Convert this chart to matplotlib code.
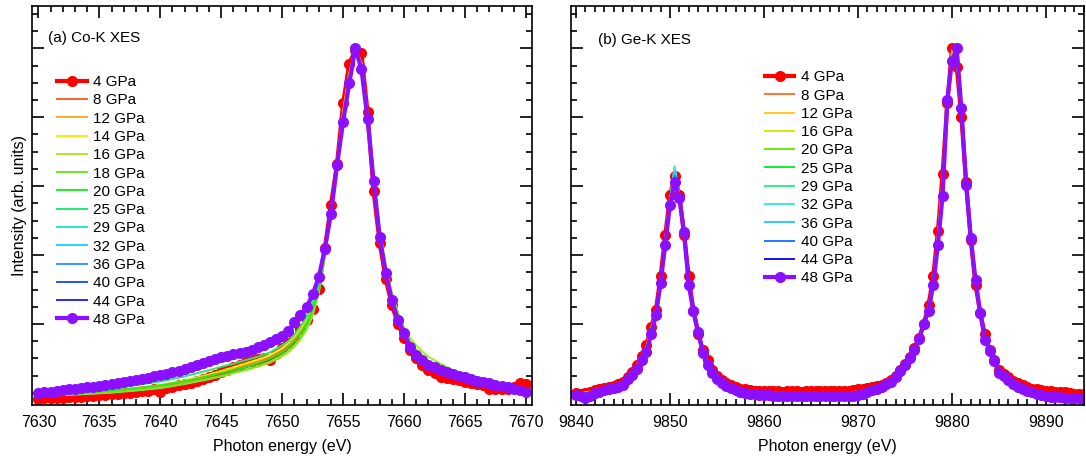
import numpy as np
import matplotlib
matplotlib.use("Agg")
import matplotlib.pyplot as plt
from matplotlib.ticker import MultipleLocator

plt.rcParams['font.family'] = ['Liberation Sans', 'DejaVu Sans']

# ---------------- Panel (a): Co-K XES ----------------
co_energy = np.arange(7630.0, 7670.01, 0.5)  # scan grid of the marked curves

co_4 = [-0.017, -0.016, -0.015, -0.016, -0.014, -0.012, -0.013, -0.011, -0.010, -0.008,
        -0.007, -0.006, -0.004, -0.002, 0.000, 0.001, 0.003, 0.005, 0.007, 0.010,
        0.004, 0.014, 0.018, 0.022, 0.026, 0.030, 0.036, 0.040, 0.046, 0.052,
        0.062, 0.068, 0.074, 0.080, 0.090, 0.094, 0.098, 0.102, 0.095, 0.112,
        0.130, 0.145, 0.160, 0.185, 0.212, 0.245, 0.303, 0.420, 0.545, 0.665,
        0.840, 0.955, 0.995, 0.985, 0.815, 0.585, 0.435, 0.330, 0.255, 0.200,
        0.160, 0.125, 0.100, 0.082, 0.068, 0.058, 0.046, 0.043, 0.040, 0.038,
        0.033, 0.030, 0.025, 0.022, 0.012, 0.010, 0.012, 0.010, 0.018, 0.028,
        0.026]

co_48 = [0.000, 0.002, 0.004, 0.006, 0.008, 0.010, 0.012, 0.014, 0.016, 0.018,
         0.020, 0.023, 0.026, 0.029, 0.031, 0.035, 0.038, 0.041, 0.044, 0.048,
         0.051, 0.055, 0.060, 0.064, 0.070, 0.076, 0.081, 0.086, 0.092, 0.098,
         0.103, 0.108, 0.112, 0.116, 0.120, 0.126, 0.132, 0.139, 0.148, 0.156,
         0.166, 0.180, 0.205, 0.225, 0.248, 0.287, 0.335, 0.419, 0.519, 0.661,
         0.787, 0.898, 1.000, 0.940, 0.795, 0.615, 0.453, 0.349, 0.269, 0.211,
         0.175, 0.134, 0.111, 0.095, 0.082, 0.074, 0.066, 0.060, 0.054, 0.050,
         0.045, 0.040, 0.036, 0.032, 0.028, 0.024, 0.020, 0.016, 0.012, 0.009,
         0.002]

co_thin_energy = [7630, 7632, 7634, 7636, 7638, 7640, 7642, 7644, 7645, 7646, 7647, 7648, 7649, 7650,
                  7650.5, 7651, 7651.5, 7652, 7652.5, 7653, 7653.5, 7654, 7654.5, 7655, 7655.5, 7656,
                  7656.5, 7657, 7657.5, 7658, 7658.5, 7659, 7659.5, 7660, 7660.5, 7661, 7661.5, 7662,
                  7663, 7664, 7666, 7668, 7670]

co_8 = [-0.010, -0.006, -0.002, 0.004, 0.010, 0.018, 0.030, 0.048, 0.058, 0.068, 0.078, 0.090, 0.102, 0.122,
        0.135, 0.152, 0.175, 0.205, 0.245, 0.300, 0.400, 0.530, 0.670, 0.820, 0.930, 1.000,
        0.960, 0.800, 0.600, 0.445, 0.340, 0.262, 0.205, 0.168, 0.130, 0.106, 0.090, 0.078,
        0.060, 0.048, 0.032, 0.018, 0.012]
co_12 = [-0.008, -0.004, 0.000, 0.006, 0.013, 0.022, 0.035, 0.052, 0.062, 0.072, 0.083, 0.094, 0.108, 0.128,
         0.142, 0.160, 0.182, 0.210, 0.250, 0.305, 0.405, 0.530, 0.670, 0.815, 0.925, 1.000,
         0.955, 0.800, 0.605, 0.448, 0.343, 0.265, 0.207, 0.170, 0.132, 0.108, 0.092, 0.080,
         0.063, 0.050, 0.034, 0.019, 0.008]
co_14 = [-0.007, -0.003, 0.001, 0.007, 0.014, 0.023, 0.036, 0.054, 0.064, 0.075, 0.086, 0.097, 0.110, 0.130,
         0.145, 0.165, 0.188, 0.215, 0.255, 0.310, 0.410, 0.530, 0.668, 0.812, 0.922, 1.000,
         0.952, 0.802, 0.607, 0.450, 0.345, 0.266, 0.209, 0.171, 0.133, 0.109, 0.093, 0.081,
         0.064, 0.051, 0.035, 0.019, 0.007]
co_16 = [-0.009, -0.006, -0.003, 0.001, 0.007, 0.014, 0.026, 0.040, 0.048, 0.057, 0.066, 0.076, 0.088, 0.106,
         0.118, 0.134, 0.155, 0.182, 0.224, 0.290, 0.395, 0.520, 0.662, 0.800, 0.915, 1.000,
         0.958, 0.815, 0.630, 0.475, 0.370, 0.292, 0.235, 0.192, 0.160, 0.138, 0.120, 0.105,
         0.085, 0.066, 0.044, 0.026, 0.010]
co_18 = [-0.008, -0.005, -0.002, 0.002, 0.008, 0.015, 0.027, 0.042, 0.050, 0.059, 0.068, 0.078, 0.091, 0.110,
         0.122, 0.139, 0.160, 0.188, 0.230, 0.295, 0.398, 0.522, 0.664, 0.802, 0.916, 1.000,
         0.955, 0.810, 0.625, 0.468, 0.362, 0.284, 0.226, 0.185, 0.150, 0.126, 0.108, 0.094,
         0.076, 0.060, 0.040, 0.023, 0.008]
co_20 = [-0.008, -0.004, 0.001, 0.007, 0.014, 0.022, 0.034, 0.050, 0.058, 0.066, 0.075, 0.086, 0.100, 0.118,
         0.132, 0.150, 0.172, 0.200, 0.242, 0.302, 0.403, 0.524, 0.664, 0.804, 0.917, 1.000,
         0.950, 0.805, 0.620, 0.460, 0.355, 0.276, 0.218, 0.180, 0.142, 0.118, 0.100, 0.088,
         0.070, 0.056, 0.038, 0.021, 0.006]
co_25 = [-0.006, 0.000, 0.006, 0.014, 0.023, 0.033, 0.048, 0.066, 0.076, 0.085, 0.095, 0.105, 0.118, 0.138,
         0.150, 0.170, 0.193, 0.220, 0.260, 0.315, 0.410, 0.522, 0.663, 0.800, 0.912, 1.000,
         0.948, 0.802, 0.618, 0.458, 0.352, 0.273, 0.215, 0.178, 0.139, 0.115, 0.098, 0.086,
         0.068, 0.055, 0.037, 0.020, 0.004]
co_29 = [-0.004, 0.003, 0.011, 0.020, 0.031, 0.042, 0.059, 0.080, 0.091, 0.100, 0.110, 0.121, 0.137, 0.155,
         0.168, 0.190, 0.210, 0.236, 0.276, 0.326, 0.414, 0.520, 0.662, 0.795, 0.908, 1.000,
         0.946, 0.800, 0.617, 0.456, 0.351, 0.272, 0.214, 0.177, 0.137, 0.113, 0.097, 0.084,
         0.067, 0.055, 0.037, 0.020, 0.003]
co_32 = [-0.003, 0.004, 0.012, 0.021, 0.032, 0.044, 0.061, 0.083, 0.094, 0.103, 0.112, 0.124, 0.140, 0.158,
         0.171, 0.194, 0.214, 0.240, 0.279, 0.329, 0.415, 0.520, 0.661, 0.793, 0.905, 1.000,
         0.944, 0.798, 0.616, 0.455, 0.350, 0.271, 0.213, 0.176, 0.136, 0.112, 0.096, 0.083,
         0.067, 0.054, 0.036, 0.020, 0.003]
co_36 = [-0.002, 0.005, 0.013, 0.022, 0.033, 0.045, 0.063, 0.085, 0.096, 0.105, 0.114, 0.126, 0.142, 0.160,
         0.174, 0.197, 0.218, 0.243, 0.282, 0.331, 0.416, 0.519, 0.661, 0.791, 0.903, 1.000,
         0.943, 0.797, 0.616, 0.454, 0.350, 0.270, 0.212, 0.176, 0.135, 0.112, 0.096, 0.083,
         0.066, 0.054, 0.036, 0.020, 0.002]
co_40 = [-0.001, 0.006, 0.014, 0.023, 0.035, 0.047, 0.065, 0.087, 0.098, 0.107, 0.116, 0.128, 0.144, 0.162,
         0.176, 0.200, 0.221, 0.245, 0.284, 0.333, 0.417, 0.519, 0.661, 0.789, 0.900, 1.000,
         0.942, 0.796, 0.615, 0.454, 0.349, 0.270, 0.212, 0.175, 0.135, 0.111, 0.095, 0.082,
         0.066, 0.054, 0.036, 0.020, 0.002]
co_44 = [0.000, 0.007, 0.015, 0.024, 0.036, 0.049, 0.067, 0.089, 0.100, 0.109, 0.118, 0.130, 0.146, 0.164,
         0.178, 0.203, 0.223, 0.247, 0.286, 0.334, 0.418, 0.519, 0.661, 0.788, 0.899, 1.000,
         0.941, 0.795, 0.615, 0.453, 0.349, 0.269, 0.211, 0.175, 0.134, 0.111, 0.095, 0.082,
         0.066, 0.054, 0.036, 0.020, 0.002]

co_labels = ['4 GPa', '8 GPa', '12 GPa', '14 GPa', '16 GPa', '18 GPa', '20 GPa', '25 GPa',
             '29 GPa', '32 GPa', '36 GPa', '40 GPa', '44 GPa', '48 GPa']
co_colors = ['#ff0000', '#ff6030', '#ffa822', '#f2ee00', '#a6ec1e', '#6eea1e', '#22ea22', '#22ea78',
             '#22eacc', '#22d8ff', '#3398ff', '#2255ff', '#2a2ae8', '#8a10ff']

# ---------------- Panel (b): Ge-K XES ----------------
ge_energy = np.arange(9840.0, 9894.01, 0.5)

ge_4 = [0.000, -0.002, 0.000, 0.004, 0.008, 0.010, 0.013, 0.016, 0.020, 0.025,
        0.032, 0.045, 0.060, 0.080, 0.108, 0.140, 0.190, 0.240, 0.338, 0.457,
        0.573, 0.629, 0.573, 0.457, 0.338, 0.237, 0.172, 0.124, 0.095, 0.068,
        0.050, 0.038, 0.028, 0.022, 0.016, 0.012, 0.010, 0.008, 0.007, 0.006,
        0.005, 0.005, 0.006, 0.005, 0.004, 0.005, 0.006, 0.005, 0.004, 0.005,
        0.005, 0.006, 0.005, 0.005, 0.006, 0.007, 0.006, 0.006, 0.007, 0.008,
        0.010, 0.012, 0.014, 0.016, 0.020, 0.024, 0.030, 0.038, 0.050, 0.066,
        0.085, 0.105, 0.130, 0.160, 0.200, 0.255, 0.338, 0.470, 0.636, 0.840,
        1.000, 0.947, 0.800, 0.612, 0.443, 0.314, 0.232, 0.170, 0.125, 0.095,
        0.068, 0.055, 0.045, 0.036, 0.028, 0.022, 0.016, 0.012, 0.010, 0.008,
        0.006, 0.005, 0.004, 0.003, 0.002, 0.000, -0.002, -0.003, -0.004]

ge_48 = [-0.005, -0.010, -0.015, -0.008, 0.000, 0.004, 0.008, 0.012, 0.015, 0.018,
         0.022, 0.040, 0.051, 0.070, 0.095, 0.120, 0.170, 0.225, 0.319, 0.430,
         0.546, 0.612, 0.565, 0.467, 0.312, 0.237, 0.177, 0.116, 0.082, 0.058,
         0.040, 0.029, 0.019, 0.014, 0.008, 0.003, 0.000, -0.002, -0.004, -0.005,
         -0.006, -0.007, -0.008, -0.008, -0.009, -0.009, -0.008, -0.009, -0.008, -0.008,
         -0.009, -0.008, -0.008, -0.010, -0.009, -0.008, -0.008, -0.009, -0.008, -0.008,
         -0.007, -0.003, 0.002, 0.008, 0.012, 0.017, 0.027, 0.032, 0.045, 0.064,
         0.080, 0.100, 0.125, 0.157, 0.200, 0.237, 0.314, 0.430, 0.572, 0.850,
         0.964, 1.000, 0.826, 0.604, 0.450, 0.327, 0.232, 0.155, 0.121, 0.092,
         0.058, 0.048, 0.037, 0.027, 0.018, 0.012, 0.006, 0.003, -0.002, -0.007,
         -0.010, -0.012, -0.012, -0.012, -0.014, -0.016, -0.016, -0.016, -0.017]

ge_thin_energy = [9840, 9842, 9844, 9845, 9846, 9847, 9847.5, 9848, 9848.5, 9849, 9849.5, 9850, 9850.5,
                  9851, 9851.5, 9852, 9852.5, 9853, 9853.5, 9854, 9855, 9856, 9858, 9860, 9863, 9866,
                  9869, 9871, 9873, 9874, 9875, 9876, 9877, 9877.5, 9878, 9878.5, 9879, 9879.5, 9880,
                  9880.5, 9881, 9881.5, 9882, 9882.5, 9883, 9883.5, 9884, 9885, 9886, 9887, 9888,
                  9890, 9892, 9894]

ge_8 = [-0.002, 0.006, 0.019, 0.029, 0.058, 0.104, 0.135, 0.188, 0.232, 0.332, 0.450, 0.566, 0.624,
        0.571, 0.460, 0.330, 0.238, 0.174, 0.122, 0.090, 0.047, 0.025, 0.007, 0.002, 0.000, 0.001,
        0.000, 0.010, 0.029, 0.049, 0.084, 0.130, 0.200, 0.250, 0.332, 0.462, 0.620, 0.845, 0.995,
        0.962, 0.808, 0.610, 0.445, 0.318, 0.232, 0.165, 0.124, 0.065, 0.043, 0.025, 0.013,
        0.001, -0.004, -0.008]
ge_12 = [-0.002, 0.005, 0.018, 0.028, 0.057, 0.102, 0.133, 0.187, 0.230, 0.330, 0.447, 0.563, 0.628,
         0.572, 0.462, 0.328, 0.237, 0.175, 0.121, 0.089, 0.046, 0.024, 0.006, 0.001, -0.001, 0.000,
         -0.001, 0.009, 0.028, 0.048, 0.083, 0.129, 0.200, 0.248, 0.330, 0.456, 0.612, 0.846, 0.990,
         0.968, 0.812, 0.609, 0.446, 0.320, 0.232, 0.164, 0.123, 0.064, 0.042, 0.024, 0.012,
         0.000, -0.005, -0.009]
ge_16 = [-0.003, 0.004, 0.018, 0.027, 0.056, 0.101, 0.131, 0.187, 0.229, 0.329, 0.446, 0.562, 0.635,
         0.572, 0.463, 0.326, 0.237, 0.175, 0.120, 0.088, 0.045, 0.024, 0.005, 0.000, -0.002, -0.002,
         -0.002, 0.008, 0.028, 0.048, 0.082, 0.128, 0.200, 0.246, 0.327, 0.452, 0.606, 0.846, 0.985,
         0.972, 0.813, 0.608, 0.446, 0.320, 0.232, 0.162, 0.123, 0.063, 0.041, 0.023, 0.011,
         -0.002, -0.006, -0.010]
ge_20 = [-0.003, 0.004, 0.018, 0.027, 0.056, 0.100, 0.130, 0.187, 0.228, 0.328, 0.444, 0.561, 0.640,
         0.572, 0.463, 0.325, 0.237, 0.175, 0.120, 0.088, 0.045, 0.024, 0.005, 0.000, -0.002, -0.002,
         -0.002, 0.008, 0.028, 0.048, 0.082, 0.128, 0.200, 0.246, 0.326, 0.450, 0.604, 0.845, 0.982,
         0.974, 0.813, 0.608, 0.446, 0.320, 0.232, 0.162, 0.123, 0.063, 0.041, 0.023, 0.011,
         -0.002, -0.006, -0.010]
ge_25 = [-0.003, 0.003, 0.017, 0.026, 0.055, 0.099, 0.128, 0.186, 0.226, 0.326, 0.441, 0.560, 0.645,
         0.571, 0.464, 0.323, 0.237, 0.176, 0.119, 0.087, 0.044, 0.023, 0.004, -0.001, -0.003, -0.003,
         -0.003, 0.007, 0.028, 0.047, 0.081, 0.127, 0.200, 0.244, 0.323, 0.446, 0.598, 0.846, 0.978,
         0.980, 0.816, 0.607, 0.447, 0.322, 0.232, 0.160, 0.122, 0.062, 0.040, 0.022, 0.010,
         -0.003, -0.007, -0.011]
ge_29 = [-0.004, 0.003, 0.017, 0.025, 0.054, 0.098, 0.127, 0.186, 0.225, 0.325, 0.440, 0.559, 0.655,
         0.571, 0.464, 0.322, 0.237, 0.176, 0.119, 0.086, 0.043, 0.022, 0.003, -0.002, -0.004, -0.004,
         -0.004, 0.006, 0.027, 0.047, 0.081, 0.127, 0.200, 0.243, 0.322, 0.443, 0.594, 0.847, 0.975,
         0.985, 0.818, 0.606, 0.447, 0.323, 0.232, 0.159, 0.122, 0.061, 0.040, 0.021, 0.009,
         -0.004, -0.008, -0.012]
ge_32 = [-0.004, 0.002, 0.016, 0.025, 0.054, 0.098, 0.126, 0.185, 0.224, 0.324, 0.438, 0.556, 0.658,
         0.570, 0.465, 0.320, 0.237, 0.176, 0.118, 0.086, 0.043, 0.022, 0.003, -0.003, -0.005, -0.005,
         -0.005, 0.005, 0.027, 0.046, 0.080, 0.126, 0.200, 0.242, 0.320, 0.440, 0.590, 0.848, 0.972,
         0.990, 0.820, 0.606, 0.448, 0.324, 0.232, 0.158, 0.122, 0.060, 0.039, 0.020, 0.008,
         -0.005, -0.010, -0.013]
ge_36 = [-0.004, 0.002, 0.016, 0.024, 0.053, 0.097, 0.125, 0.185, 0.222, 0.322, 0.436, 0.553, 0.645,
         0.569, 0.465, 0.318, 0.237, 0.176, 0.118, 0.085, 0.042, 0.021, 0.002, -0.004, -0.006, -0.006,
         -0.006, 0.004, 0.027, 0.046, 0.080, 0.126, 0.200, 0.240, 0.318, 0.436, 0.584, 0.849, 0.969,
         0.994, 0.822, 0.605, 0.449, 0.325, 0.232, 0.157, 0.121, 0.059, 0.038, 0.019, 0.007,
         -0.007, -0.011, -0.014]
ge_40 = [-0.005, 0.001, 0.015, 0.023, 0.052, 0.096, 0.123, 0.184, 0.220, 0.321, 0.433, 0.550, 0.630,
         0.567, 0.466, 0.316, 0.237, 0.177, 0.117, 0.084, 0.041, 0.020, 0.001, -0.005, -0.007, -0.007,
         -0.007, 0.003, 0.027, 0.045, 0.080, 0.125, 0.200, 0.239, 0.316, 0.433, 0.578, 0.850, 0.966,
         0.998, 0.824, 0.605, 0.449, 0.326, 0.232, 0.156, 0.121, 0.059, 0.038, 0.019, 0.007,
         -0.008, -0.012, -0.015]
ge_44 = [-0.005, 0.000, 0.015, 0.022, 0.051, 0.095, 0.121, 0.184, 0.218, 0.320, 0.431, 0.548, 0.620,
         0.566, 0.467, 0.313, 0.237, 0.177, 0.116, 0.083, 0.040, 0.019, 0.000, -0.006, -0.008, -0.008,
         -0.008, 0.002, 0.027, 0.045, 0.080, 0.125, 0.200, 0.238, 0.315, 0.431, 0.574, 0.850, 0.965,
         1.000, 0.825, 0.604, 0.450, 0.327, 0.232, 0.155, 0.121, 0.058, 0.037, 0.018, 0.006,
         -0.009, -0.013, -0.016]

ge_labels = ['4 GPa', '8 GPa', '12 GPa', '16 GPa', '20 GPa', '25 GPa', '29 GPa', '32 GPa',
             '36 GPa', '40 GPa', '44 GPa', '48 GPa']
ge_colors = ['#ff0000', '#ff7733', '#ffcc22', '#c8ee11', '#66ee11', '#11ee33', '#33ee88', '#33eedd',
             '#33c8ff', '#2277ff', '#1111ee', '#8a10ff']

# ---------------- Figure ----------------
W, H = 1086, 457
fig = plt.figure(figsize=(W / 100, H / 100), dpi=100)
ax1 = fig.add_axes([32.3 / W, 1 - 405 / H, (531.7 - 32.3) / W, (405 - 5.7) / H])
ax2 = fig.add_axes([570.7 / W, 1 - 405 / H, (1084 - 570.7) / W, (405 - 5.7) / H])

THICK = dict(lw=3.0, marker='o', ms=8.0, mew=0)
THIN = dict(lw=1.4)

co_thin = [co_8, co_12, co_14, co_16, co_18, co_20, co_25, co_29, co_32, co_36, co_40, co_44]
ax1.plot(co_energy, co_4, color=co_colors[0], label=co_labels[0], **THICK)
for vals, c, lab in zip(co_thin, co_colors[1:-1], co_labels[1:-1]):
    ax1.plot(co_thin_energy, vals, color=c, label=lab, **THIN)
ax1.plot(co_energy, co_48, color=co_colors[-1], label=co_labels[-1], **THICK)

ge_thin = [ge_8, ge_12, ge_16, ge_20, ge_25, ge_29, ge_32, ge_36, ge_40, ge_44]
ax2.plot(ge_energy, ge_4, color=ge_colors[0], label=ge_labels[0], **THICK)
for vals, c, lab in zip(ge_thin, ge_colors[1:-1], ge_labels[1:-1]):
    ax2.plot(ge_thin_energy, vals, color=c, label=lab, **THIN)
ax2.plot(ge_energy, ge_48, color=ge_colors[-1], label=ge_labels[-1], **THICK)

ax1.set_xlim(7629.5, 7670.47)
ax2.set_xlim(9839.44, 9894.04)
for ax in (ax1, ax2):
    ax.set_ylim(-0.035, 1.1236)
    ax.yaxis.set_major_locator(MultipleLocator(0.2))
    ax.yaxis.set_minor_locator(MultipleLocator(0.05))
    ax.tick_params(which='both', direction='in', top=True, right=True, labelleft=False,
                   labelsize=11.5, width=1.2, pad=7)
    ax.tick_params(which='major', length=8.5)
    ax.tick_params(which='minor', length=4.3)
    for s in ax.spines.values():
        s.set_linewidth(1.2)
    ax.set_xlabel('Photon energy (eV)', fontsize=11.5, labelpad=7)

ax1.xaxis.set_major_locator(MultipleLocator(5))
ax1.xaxis.set_minor_locator(MultipleLocator(1))
ax2.xaxis.set_major_locator(MultipleLocator(10))
ax2.xaxis.set_minor_locator(MultipleLocator(1))

ax1.set_ylabel('Intensity (arb. units)', fontsize=11.5, labelpad=4)

ax1.text(0.032, 0.918, '(a) Co-K XES', transform=ax1.transAxes, fontsize=11,
         ha='left', va='center')
ax2.text(0.054, 0.913, '(b) Ge-K XES', transform=ax2.transAxes, fontsize=11,
         ha='left', va='center')

leg_kw = dict(frameon=False, fontsize=11, handlelength=1.92, handletextpad=0.43,
              labelspacing=0.28, borderpad=0, borderaxespad=0, loc='upper left')
ax1.legend(bbox_to_anchor=(0.050, 0.826), **leg_kw)
ax2.legend(bbox_to_anchor=(0.3785, 0.838), **leg_kw)

fig.savefig('out.png', dpi=100)
